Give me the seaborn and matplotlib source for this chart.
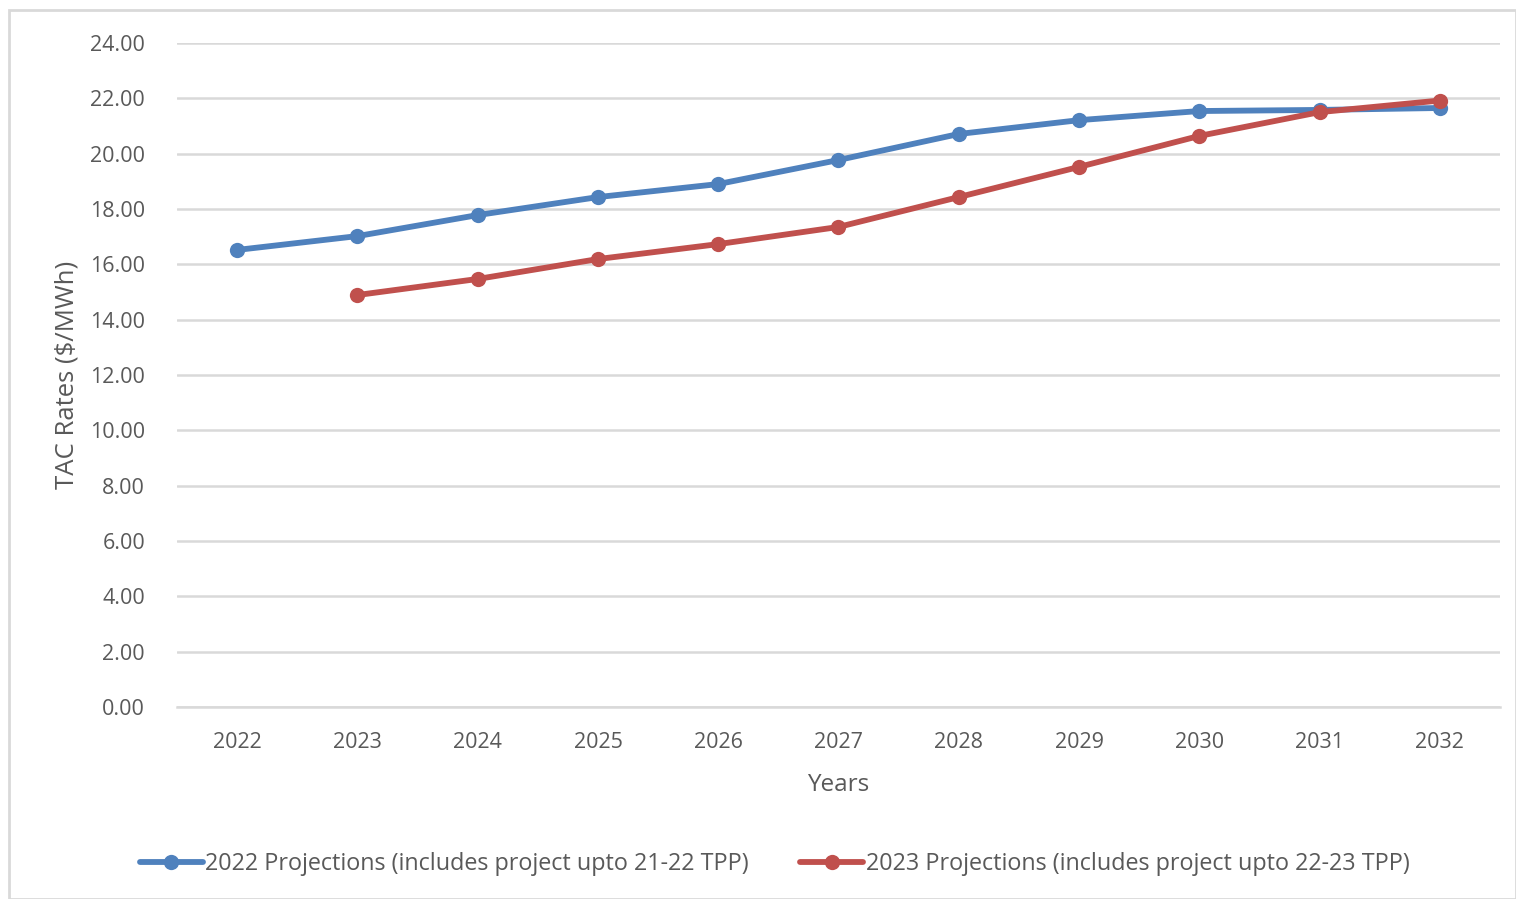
import matplotlib
matplotlib.use("Agg")
import matplotlib.pyplot as plt
import numpy as np
import pandas as pd
import seaborn as sns
from matplotlib.patches import Rectangle

years = [2022, 2023, 2024, 2025, 2026, 2027, 2028, 2029, 2030, 2031, 2032]
proj_2022 = [16.52, 17.02, 17.78, 18.43, 18.90, 19.77, 20.71, 21.21, 21.54, 21.58, 21.65]
proj_2023 = [np.nan, 14.89, 15.47, 16.19, 16.73, 17.35, 18.43, 19.52, 20.64, 21.50, 21.92]
series_names = [
    "2022 Projections (includes project upto 21-22 TPP)",
    "2023 Projections (includes project upto 22-23 TPP)",
]
y_ticks = [0, 2, 4, 6, 8, 10, 12, 14, 16, 18, 20, 22, 24]

BLUE = "#4F81BD"
RED = "#C0504D"
GRID = "#D9D9D9"
TEXT = "#595959"

sns.set_style("white")
plt.rcParams["font.family"] = ["Open Sans", "DejaVu Sans"]
plt.rcParams["font.size"] = 15

df = pd.DataFrame({
    "Year": years * 2,
    "Rate": proj_2022 + proj_2023,
    "Series": [series_names[0]] * len(years) + [series_names[1]] * len(years),
})

fig = plt.figure(figsize=(15.16, 8.99), dpi=100)
ax = fig.add_axes([0.1168, 0.2136, 0.8726, 0.7386])

sns.lineplot(
    data=df.dropna(),
    x="Year",
    y="Rate",
    hue="Series",
    hue_order=series_names,
    palette=[BLUE, RED],
    marker="o",
    markersize=11,
    markeredgewidth=0,
    linewidth=4.2,
    legend=True,
    ax=ax,
)

ax.set_xlim(2021.5, 2032.5)
ax.set_ylim(0, 24)
ax.set_xticks(years)
ax.set_yticks(y_ticks)
ax.set_yticklabels([f"{v:.2f}" for v in y_ticks])
ax.tick_params(axis="both", length=0, labelsize=15.5, colors=TEXT)
ax.tick_params(axis="x", pad=18)
ax.tick_params(axis="y", pad=23)
ax.yaxis.grid(True, color=GRID, linewidth=1.8)
ax.set_axisbelow(True)
for side in ["top", "right", "left"]:
    ax.spines[side].set_visible(False)
ax.spines["bottom"].set_color(GRID)
ax.spines["bottom"].set_linewidth(1.8)

ax.set_xlabel("Years", fontsize=17.5, color=TEXT)
ax.set_ylabel("TAC Rates ($/MWh)", fontsize=18.5, color=TEXT)
ax.xaxis.set_label_coords(0.5, -0.1)
ax.yaxis.set_label_coords(-0.074, 0.5)

handles, labels = ax.get_legend_handles_labels()
ax.get_legend().remove()
fig.legend(
    handles, labels,
    loc="center",
    bbox_to_anchor=(0.511, 1 - 864 / 899),
    ncol=2,
    frameon=False,
    fontsize=16.8,
    handlelength=2.7,
    handletextpad=0.1,
    columnspacing=2.2,
    labelcolor=TEXT,
)

fig.patches.append(Rectangle(
    (9 / 1516, 0), 1 - 9 / 1516, 1 - 10 / 899,
    transform=fig.transFigure, fill=False, edgecolor=GRID, linewidth=2,
))

fig.savefig("out.png", dpi=100)
